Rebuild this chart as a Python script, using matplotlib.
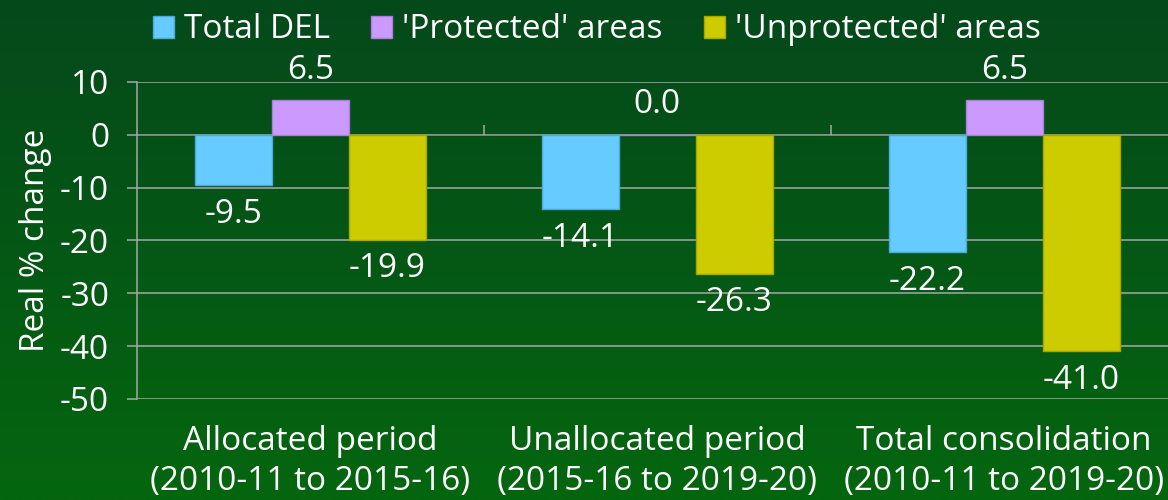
import numpy as np
import matplotlib
matplotlib.use("Agg")
import matplotlib.pyplot as plt
from matplotlib.colors import LinearSegmentedColormap

plt.rcParams['font.family'] = ['Open Sans', 'DejaVu Sans']
plt.rcParams['axes.unicode_minus'] = False

# data
categories = ['Allocated period\n(2010-11 to 2015-16)',
              'Unallocated period\n(2015-16 to 2019-20)',
              'Total consolidation\n(2010-11 to 2019-20)']
series_names = ['Total DEL', "'Protected' areas", "'Unprotected' areas"]
total_del = [-9.5, -14.1, -22.2]
protected = [6.5, 0.0, 6.5]
unprotected = [-19.9, -26.3, -41.0]
colors = ['#66CCFF', '#CC99FF', '#CCCC00']
edges = ['#4FA8D8', '#A880D8', '#A8A800']

fig = plt.figure(figsize=(11.68, 5), dpi=100)

# green gradient background
bg = fig.add_axes([0, 0, 1, 1], zorder=-10)
grad = np.linspace(0, 1, 256).reshape(-1, 1)
cmap = LinearSegmentedColormap.from_list('bg', ['#04491B', '#05660F'])
bg.imshow(grad, aspect='auto', cmap=cmap, extent=[0, 1, 0, 1], origin='upper')
bg.axis('off')

ax = fig.add_axes([0.1173, 0.202, 0.891, 0.634])
ax.set_facecolor('none')

x = np.arange(len(categories))
w = 0.222
fs = 24
grid_c = '#A8A8A8'

ax.set_ylim(-50, 10)
ax.set_xlim(-0.5, len(categories) - 0.5)
ax.set_yticks(np.arange(-50, 11, 10))
ax.yaxis.grid(True, color=grid_c, linewidth=1.1, zorder=0)
ax.set_axisbelow(True)

for i, (vals, c, ec, name) in enumerate(zip([total_del, protected, unprotected],
                                            colors, edges, series_names)):
    pos = x + (i - 1) * w
    bars = ax.bar(pos, vals, width=w, color=c, edgecolor=ec, linewidth=1,
                  label=name, zorder=3)
    for b, v in zip(bars, vals):
        if v >= 0:
            ax.annotate(f'{v:.1f}', (b.get_x() + b.get_width() / 2, v),
                        xytext=(0, 10), textcoords='offset points',
                        ha='center', va='bottom', color='white', fontsize=fs)
        else:
            ax.annotate(f'{v:.1f}', (b.get_x() + b.get_width() / 2, v),
                        xytext=(0, -9), textcoords='offset points',
                        ha='center', va='top', color='white', fontsize=fs)

for s in ['top', 'right', 'bottom']:
    ax.spines[s].set_visible(False)
ax.spines['left'].set_color(grid_c)
ax.spines['left'].set_linewidth(1.1)

ax.set_xticks(x)
ax.set_xticklabels(categories, color='white', fontsize=fs, linespacing=1.25)
ax.tick_params(axis='x', length=0, pad=19)
ax.tick_params(axis='y', colors=grid_c, labelcolor='white', labelsize=fs,
               length=7, width=1.1, pad=13)

# category separator ticks on the zero line
ylo, yhi = ax.get_ylim()
sec = ax.secondary_xaxis((0 - ylo) / (yhi - ylo))
sec.set_xticks(x[:-1] + 0.5)
sec.set_xticklabels([])
sec.tick_params(length=7, width=1.1, color=grid_c, direction='out')
sec.spines['bottom'].set_visible(False)

ax.set_ylabel('Real % change', color='white', fontsize=fs, labelpad=6)

fig.legend(loc='center', bbox_to_anchor=(0.511, 0.94), ncol=3, frameon=False,
           fontsize=fs, handlelength=0.62, handleheight=0.62,
           handletextpad=0.3, columnspacing=1.25, labelcolor='white',
           borderaxespad=0)

fig.savefig('out.png', dpi=100)
